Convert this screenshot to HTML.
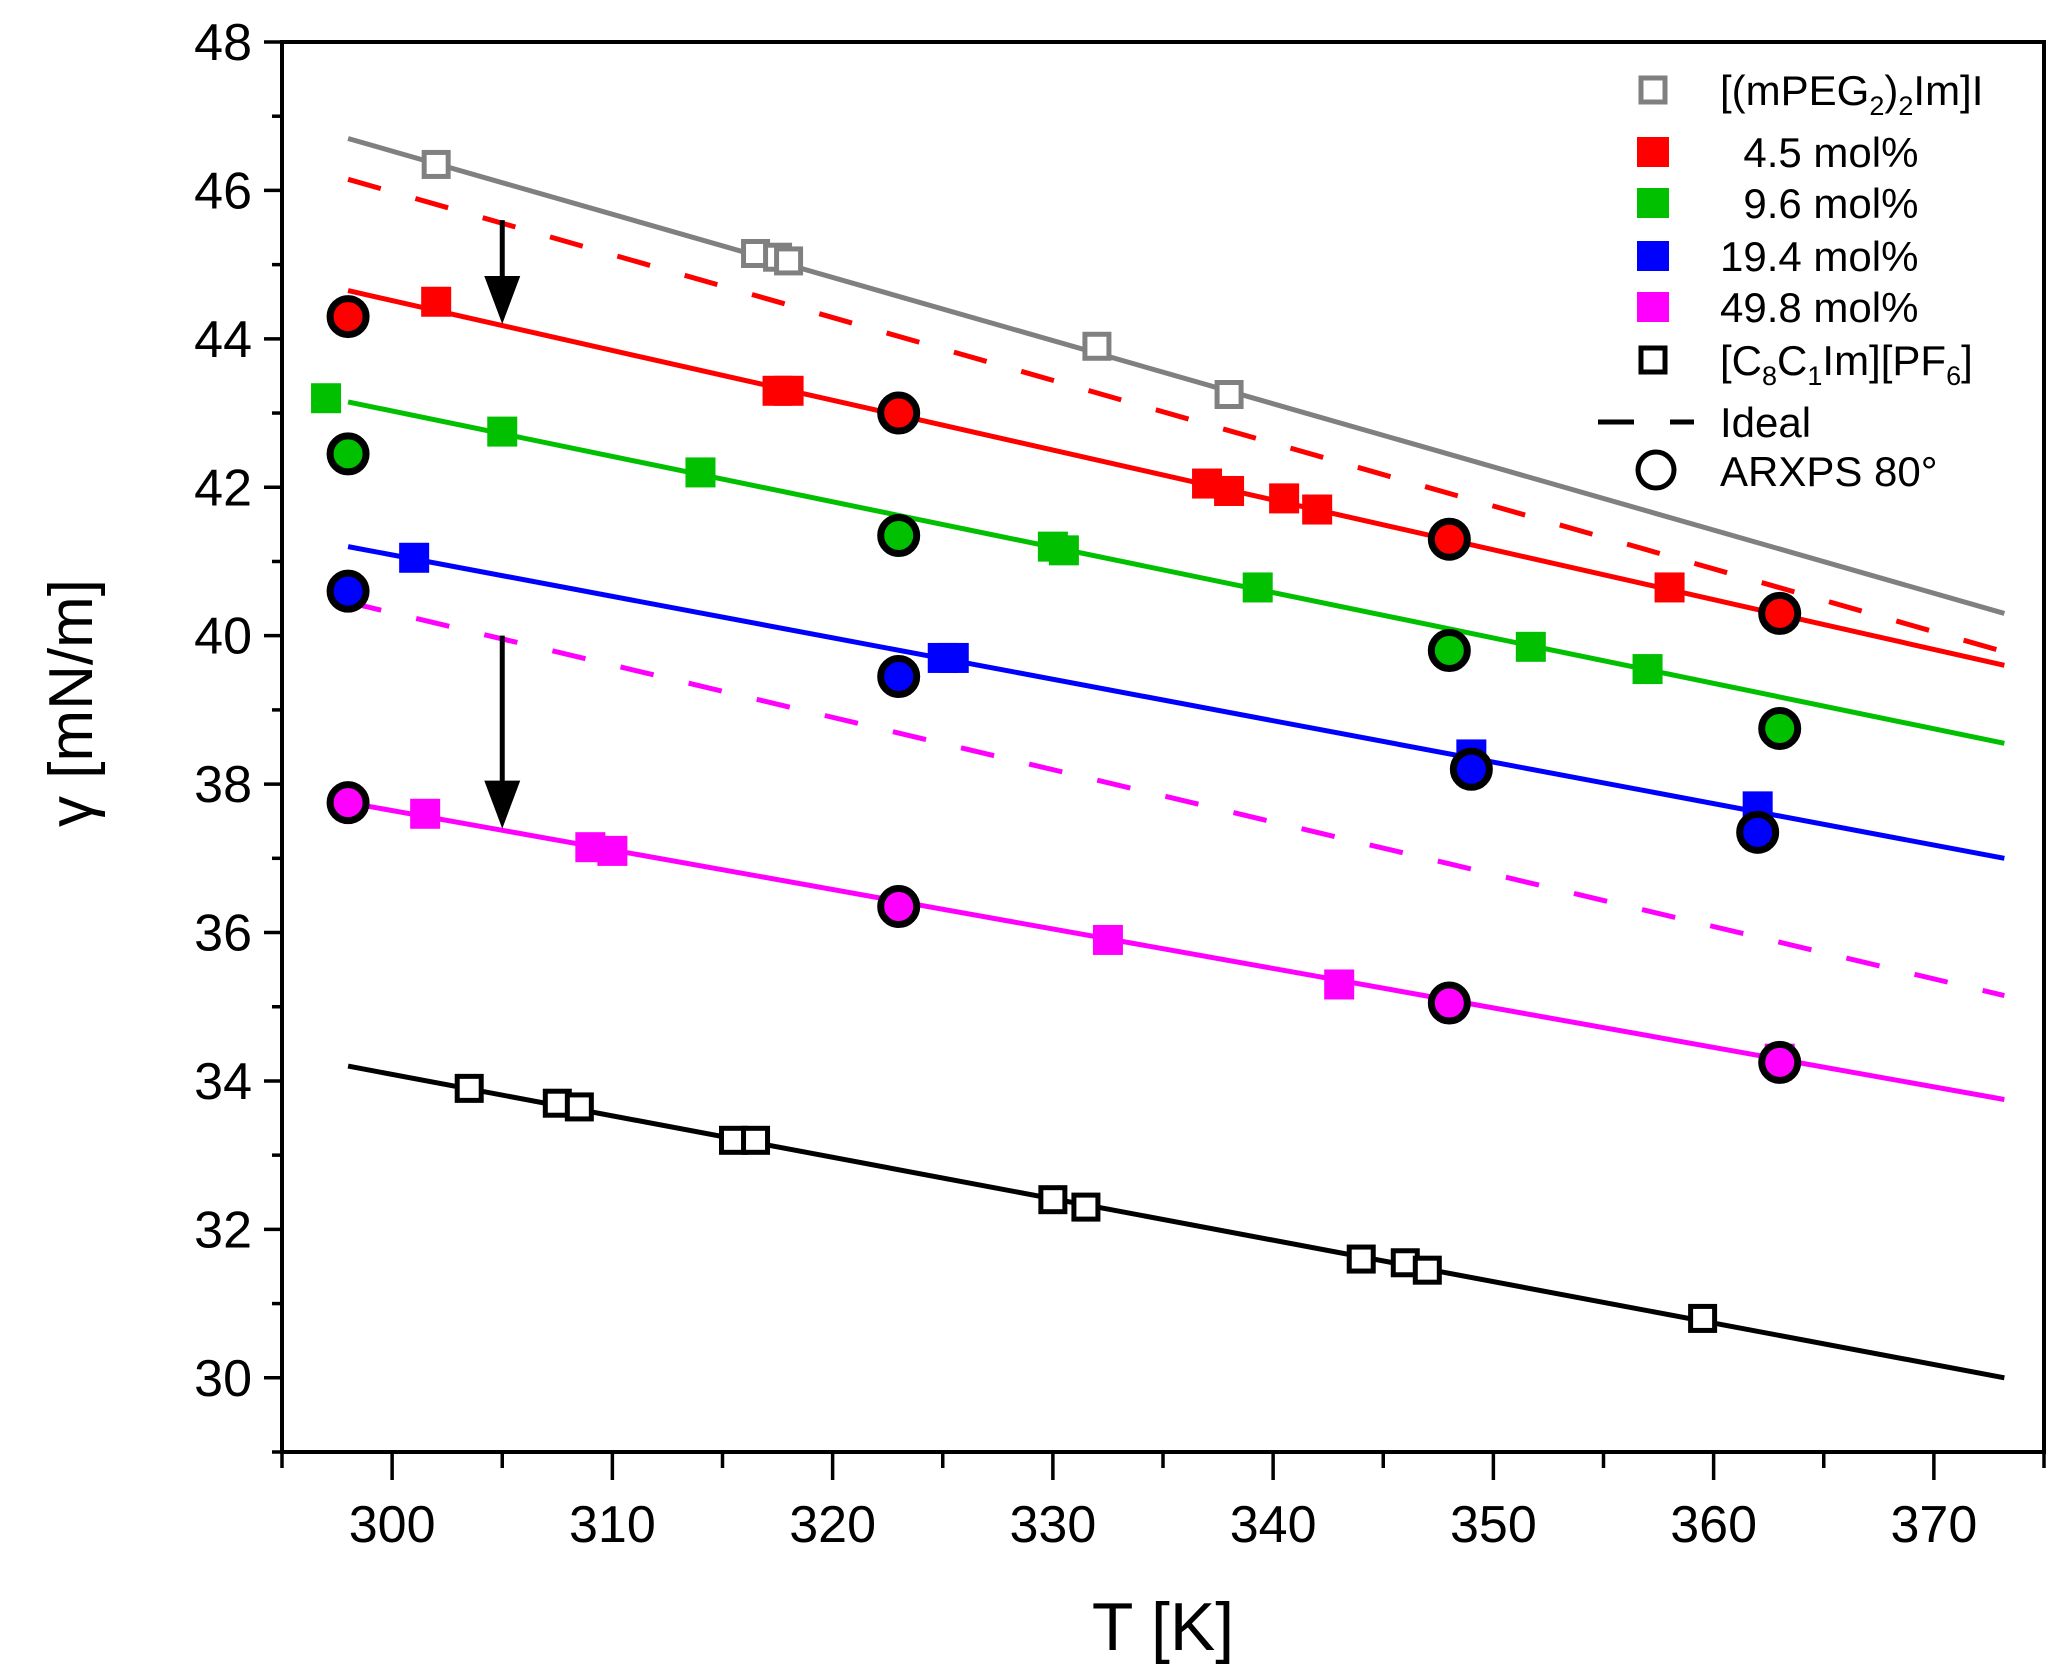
<!DOCTYPE html>
<html><head><meta charset="utf-8"><style>html,body{margin:0;padding:0;background:#fff}svg{display:block}</style></head>
<body>
<svg id="s" xmlns="http://www.w3.org/2000/svg" width="2068" height="1675" viewBox="0 0 2068 1675" font-family="Liberation Sans, Arial, sans-serif"></svg>
<script>
const L=282,R=2044,T=42,B=1452;
const X=t=>L+(t-295)*(R-L)/80, Y=g=>B-(g-29)*(B-T)/19;
let h='';
h+=`<rect x="${L}" y="${T}" width="${R-L}" height="${B-T}" fill="none" stroke="#000" stroke-width="4"/>`;
for(let g=29;g<=48;g++){const y=Y(g);const maj=g%2==0;h+=`<line x1="${L-(maj?18:10)}" y1="${y}" x2="${L}" y2="${y}" stroke="#000" stroke-width="3.5"/>`;
 if(maj&&g>=30)h+=`<text x="${L-30}" y="${y+18}" font-size="52" text-anchor="end">${g}</text>`;}
for(let t=295;t<=375;t+=5){const x=X(t);const maj=t%10==0;h+=`<line x1="${x}" y1="${B}" x2="${x}" y2="${B+(maj?28:16)}" stroke="#000" stroke-width="3.5"/>`;
 if(maj&&t<=370)h+=`<text x="${x}" y="${B+90}" font-size="52" text-anchor="middle">${t}</text>`;}
h+=`<text x="${X(335)}" y="1650" font-size="68" text-anchor="middle">T [K]</text>`;
h+=`<text transform="translate(92,703) rotate(-90)" font-size="62" text-anchor="middle">γ [mN/m]</text>`;
function ln(a,b,c,d,col,dash){h+=`<line x1="${X(a)}" y1="${Y(b)}" x2="${X(c)}" y2="${Y(d)}" stroke="${col}" stroke-width="5" ${dash?'stroke-dasharray="34 36"':''}/>`;}
ln(298,46.7,373.2,40.3,'#808080');
ln(298,46.15,373,39.8,'#ff0000',1);
ln(298,44.65,373.2,39.6,'#ff0000');
ln(298,43.15,373.2,38.55,'#00c000');
ln(298,41.2,373.2,37.0,'#0000ff');
ln(298,40.45,373.2,35.15,'#ff00ff',1);
ln(298,37.75,373.2,33.75,'#ff00ff');
ln(298,34.2,373.2,30.0,'#000');
function arrow(t,g1,g2){const x=X(t),y1=Y(g1),y2=Y(g2);h+=`<line x1="${x}" y1="${y1}" x2="${x}" y2="${y2-40}" stroke="#000" stroke-width="5"/><polygon points="${x-18},${y2-48} ${x+18},${y2-48} ${x},${y2}" fill="#000"/>`;}
arrow(305,45.6,44.2);arrow(305,40.0,37.4);
function sq(pts,col,open){for(const[t,g]of pts){const x=X(t),y=Y(g);if(open)h+=`<rect x="${x-12}" y="${y-12}" width="24" height="24" fill="#fff" stroke="${col}" stroke-width="5"/>`;else h+=`<rect x="${x-15}" y="${y-15}" width="30" height="30" fill="${col}"/>`;}}
function ci(pts,col){for(const[t,g]of pts)h+=`<circle cx="${X(t)}" cy="${Y(g)}" r="18" fill="${col}" stroke="#000" stroke-width="7"/>`;}
sq([[302,46.35],[316.5,45.15],[317.5,45.1],[318,45.05],[332,43.9],[338,43.25]],'#808080',1);
sq([[302,44.5],[317.5,43.3],[318,43.3],[337,42.05],[338,41.95],[340.5,41.85],[342,41.7],[358,40.65]],'#ff0000');
sq([[297,43.2],[305,42.75],[314,42.2],[330,41.2],[330.5,41.15],[339.3,40.65],[351.7,39.85],[357,39.55]],'#00c000');
sq([[301,41.05],[325,39.7],[325.5,39.7],[349,38.4],[362,37.7]],'#0000ff');
sq([[301.5,37.6],[309,37.15],[310,37.1],[332.5,35.9],[343,35.3],[363,34.3]],'#ff00ff');
sq([[303.5,33.9],[307.5,33.7],[308.5,33.65],[315.5,33.2],[316.5,33.2],[330,32.4],[331.5,32.3],[344,31.6],[346,31.55],[347,31.45],[359.5,30.8]],'#000',1);
ci([[298,44.3],[323,43.0],[348,41.3],[363,40.3]],'#ff0000');
ci([[298,42.45],[323,41.35],[348,39.8],[363,38.75]],'#00c000');
ci([[298,40.6],[323,39.45],[349,38.2],[362,37.35]],'#0000ff');
ci([[298,37.75],[323,36.35],[348,35.05],[363,34.25]],'#ff00ff');
const lx=1653,tx=1720;
const rows=[[90,'#808080',1,'[(mPEG<tspan font-size="27" dy="10">2</tspan><tspan dy="-10">)</tspan><tspan font-size="27" dy="10">2</tspan><tspan dy="-10">Im]I</tspan>'],
[152,'#ff0000',0,'&#160;&#160;4.5 mol%'],[203,'#00c000',0,'&#160;&#160;9.6 mol%'],[256,'#0000ff',0,'19.4 mol%'],[307,'#ff00ff',0,'49.8 mol%'],
[360,'#000',1,'[C<tspan font-size="27" dy="10">8</tspan><tspan dy="-10">C</tspan><tspan font-size="27" dy="10">1</tspan><tspan dy="-10">Im][PF</tspan><tspan font-size="27" dy="10">6</tspan><tspan dy="-10">]</tspan>']];
for(const[y,c,o,t]of rows){if(o)h+=`<rect x="${lx-12}" y="${y-12}" width="24" height="24" fill="#fff" stroke="${c}" stroke-width="5"/>`;else h+=`<rect x="${lx-16}" y="${y-15}" width="32" height="30" fill="${c}"/>`;
 h+=`<text x="${tx}" y="${y+15}" font-size="42">${t}</text>`;}
h+=`<line x1="1598" y1="422" x2="1634" y2="422" stroke="#000" stroke-width="5"/><line x1="1670" y1="422" x2="1694" y2="422" stroke="#000" stroke-width="5"/><text x="${tx}" y="437" font-size="42">Ideal</text>`;
h+=`<circle cx="1656" cy="470" r="18" fill="#fff" stroke="#000" stroke-width="5"/><text x="${tx}" y="486" font-size="42">ARXPS 80°</text>`;
document.getElementById('s').innerHTML=h;
</script>
</body></html>
